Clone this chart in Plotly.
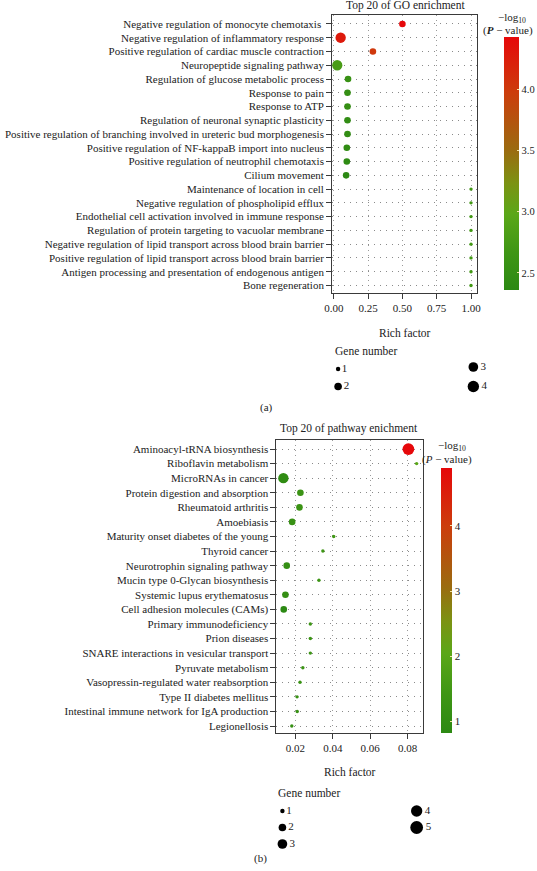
import numpy as np
import plotly.graph_objects as go

W, H = 537, 871
FONT = "Liberation Serif"

# ---------------- data: GO enrichment (panel a) ----------------
go_terms = [
    "Negative regulation of monocyte chemotaxis ",
    "Negative regulation of inflammatory response",
    "Positive regulation of cardiac muscle contraction",
    "Neuropeptide signaling pathway",
    "Regulation of glucose metabolic process",
    "Response to pain",
    "Response to ATP",
    "Regulation of neuronal synaptic plasticity",
    "Positive regulation of branching involved in ureteric bud morphogenesis",
    "Positive regulation of NF-kappaB import into nucleus",
    "Positive regulation of neutrophil chemotaxis",
    "Cilium movement",
    "Maintenance of location in cell",
    "Negative regulation of phospholipid efflux",
    "Endothelial cell activation involved in immune response",
    "Regulation of protein targeting to vacuolar membrane",
    "Negative regulation of lipid transport across blood brain barrier",
    "Positive regulation of lipid transport across blood brain barrier",
    "Antigen processing and presentation of endogenous antigen",
    "Bone regeneration",
]
go_rich = [0.50, 0.05, 0.285, 0.025, 0.104, 0.10, 0.10, 0.10, 0.10, 0.095,
           0.095, 0.09, 1.00, 1.00, 1.00, 1.00, 1.00, 1.00, 1.00, 1.00]
go_genes = [2, 4, 2, 4, 2, 2, 2, 2, 2, 2, 2, 2, 1, 1, 1, 1, 1, 1, 1, 1]
go_logp = [4.43, 4.28, 4.02, 2.78, 2.55, 2.5, 2.5, 2.46, 2.45, 2.42,
           2.4, 2.36, 2.72, 2.72, 2.72, 2.72, 2.72, 2.72, 2.72, 2.72]
go_xticks = [0.00, 0.25, 0.50, 0.75, 1.00]
go_cticks = [2.5, 3.0, 3.5, 4.0]
go_legend_genes = [1, 2, 3, 4]

# ---------------- data: KEGG pathway enrichment (panel b) ----------------
kegg_terms = [
    "Aminoacyl-tRNA biosynthesis",
    "Riboflavin metabolism",
    "MicroRNAs in cancer",
    "Protein digestion and absorption",
    "Rheumatoid arthritis",
    "Amoebiasis",
    "Maturity onset diabetes of the young",
    "Thyroid cancer",
    "Neurotrophin signaling pathway",
    "Mucin type 0-Glycan biosynthesis",
    "Systemic lupus erythematosus",
    "Cell adhesion molecules (CAMs)",
    "Primary immunodeficiency",
    "Prion diseases",
    "SNARE interactions in vesicular transport",
    "Pyruvate metabolism",
    "Vasopressin-regulated water reabsorption",
    "Type II diabetes mellitus",
    "Intestinal immune network for IgA production",
    "Legionellosis",
]
kegg_rich = [0.0804, 0.0848, 0.0136, 0.0227, 0.0222, 0.0183, 0.0405, 0.0347,
             0.0154, 0.0326, 0.0147, 0.0138, 0.028, 0.028, 0.028, 0.024,
             0.0225, 0.0209, 0.021, 0.0181]
kegg_genes = [5, 1, 4, 2, 2, 2, 1, 1, 2, 1, 2, 2, 1, 1, 1, 1, 1, 1, 1, 1]
kegg_logp = [4.89, 2.0, 0.95, 1.3, 1.3, 1.2, 1.45, 1.4, 1.1, 1.35, 1.1, 0.82,
             1.35, 1.35, 1.35, 1.3, 1.25, 1.2, 1.2, 1.15]
kegg_xticks = [0.02, 0.04, 0.06, 0.08]
kegg_cticks = [1, 2, 3, 4]
kegg_legend_genes = [1, 2, 3, 4, 5]


# ---------------- helpers ----------------
def px(x):
    return x / W


def py(y):
    return 1 - y / H


def gsize(n):
    return float(np.sqrt(30 * np.asarray(n, dtype=float) - 19) * 1.03)


cscale = [
    [0.0, "#2c8913"],
    [0.15, "#3f9615"],
    [0.30, "#5ba718"],
    [0.42, "#7b9313"],
    [0.55, "#9a6c10"],
    [0.78, "#cc3d0c"],
    [1.0, "#e6080a"],
]

fig = go.Figure()

# main scatter traces
fig.add_trace(go.Scatter(
    x=go_rich, y=go_terms, mode="markers", xaxis="x", yaxis="y",
    marker=dict(size=[gsize(g) for g in go_genes], color=go_logp,
                coloraxis="coloraxis", line=dict(width=0), opacity=1),
    showlegend=False, hoverinfo="skip"))
fig.add_trace(go.Scatter(
    x=kegg_rich, y=kegg_terms, mode="markers", xaxis="x2", yaxis="y2",
    marker=dict(size=[gsize(g) for g in kegg_genes], color=kegg_logp,
                coloraxis="coloraxis2", line=dict(width=0), opacity=1),
    showlegend=False, hoverinfo="skip"))


# size keys ("Gene number") drawn on a pixel overlay axis
def key_positions(genes, x0, y0, dx, dy, per_col):
    xs, ys = [], []
    for i, _ in enumerate(genes):
        c, r = divmod(i, per_col)
        xs.append(x0 + c * dx)
        ys.append(y0 + r * dy)
    return xs, ys


kx, ky = key_positions(go_legend_genes, 340, 369, 136, 17.5, 2)
ky = [ky[0], ky[1], ky[2] - 2, ky[3]]
fig.add_trace(go.Scatter(
    x=kx, y=ky, mode="markers+text", xaxis="x3", yaxis="y3",
    text=[str(g) for g in go_legend_genes], textposition="middle right",
    textfont=dict(family=FONT, size=11, color="#222222"),
    marker=dict(size=[gsize(g) + 1.0 for g in go_legend_genes], color="#000000",
                opacity=1, line=dict(width=0)),
    showlegend=False, hoverinfo="skip"))
kx2, ky2 = key_positions(kegg_legend_genes, 284, 811, 135, 16.5, 3)
fig.add_trace(go.Scatter(
    x=kx2, y=ky2, mode="markers+text", xaxis="x3", yaxis="y3",
    text=[str(g) for g in kegg_legend_genes], textposition="middle right",
    textfont=dict(family=FONT, size=11, color="#222222"),
    marker=dict(size=[gsize(g) + 1.0 for g in kegg_legend_genes], color="#000000",
                opacity=1, line=dict(width=0)),
    showlegend=False, hoverinfo="skip"))

axis_common = dict(
    showline=True, mirror=True, linecolor="#3a3a3a", linewidth=1,
    ticks="outside", ticklen=5, tickcolor="#3a3a3a", tickwidth=1,
    zeroline=False, automargin=False,
    tickfont=dict(family=FONT, size=11, color="#222"),
)
grid_h = dict(showgrid=True, gridcolor="#8a8a8a", gridwidth=1, griddash="1px,5px")
grid_v = dict(showgrid=True, gridcolor="#9a9a9a", gridwidth=1, griddash="1px,4px")

fig.update_layout(
    width=W, height=H, autosize=False,
    margin=dict(l=0, r=0, t=0, b=0),
    paper_bgcolor="white", plot_bgcolor="rgba(0,0,0,0)",
    font=dict(family=FONT, size=11, color="#222"),
    xaxis=dict(domain=[px(334), px(480)], anchor="y", range=[-0.012, 1.046],
               tickvals=go_xticks, ticktext=[f"{v:.2f}" for v in go_xticks],
               **axis_common, **grid_v),
    yaxis=dict(domain=[py(293), py(15)], anchor="x", type="category",
               categoryorder="array", categoryarray=go_terms,
               range=[19.55, -0.65], **axis_common, **grid_h),
    xaxis2=dict(domain=[px(278), px(425)], anchor="y2", range=[0.0099, 0.0880],
                tickvals=kegg_xticks, ticktext=[f"{v:.2f}" for v in kegg_xticks],
                **axis_common, **grid_v),
    yaxis2=dict(domain=[py(733), py(440)], anchor="x2", type="category",
                categoryorder="array", categoryarray=kegg_terms,
                range=[19.48, -0.62], **axis_common, **grid_h),
    xaxis3=dict(domain=[0, 1], anchor="y3", range=[0, W], visible=False,
                fixedrange=True, showgrid=False, zeroline=False),
    yaxis3=dict(domain=[0, 1], anchor="x3", range=[H, 0], visible=False,
                fixedrange=True, showgrid=False, zeroline=False),
    coloraxis=dict(
        colorscale=cscale, cmin=2.36, cmax=4.43,
        colorbar=dict(
            thickness=15, lenmode="pixels", len=290 - 37,
            x=px(507), xanchor="left", xpad=0, xref="paper",
            y=py(37), yanchor="top", ypad=0, yref="paper",
            outlinewidth=0, ticks="inside", ticklen=2, tickcolor="#f3e3a0",
            tickvals=go_cticks, ticktext=[f"{v:.1f}" for v in go_cticks],
            tickfont=dict(family=FONT, size=10.5, color="#222"),
        ),
    ),
    coloraxis2=dict(
        colorscale=cscale, cmin=0.82, cmax=4.89,
        colorbar=dict(
            thickness=11, lenmode="pixels", len=733 - 468,
            x=px(443), xanchor="left", xpad=0, xref="paper",
            y=py(468), yanchor="top", ypad=0, yref="paper",
            outlinewidth=0, ticks="inside", ticklen=2, tickcolor="#f3e3a0",
            tickvals=kegg_cticks, ticktext=[str(v) for v in kegg_cticks],
            tickfont=dict(family=FONT, size=11, color="#222"),
        ),
    ),
)


def ann(text, x, y, xanchor="center", size=11):
    fig.add_annotation(text=text, x=px(x), y=py(y), xref="paper", yref="paper",
                       xanchor=xanchor, yanchor="middle", showarrow=False,
                       font=dict(family=FONT, size=size, color="#222"))


ann("Top 20 of GO enrichment", 408, 5, size=11.5)
ann("−log<sub>10</sub>", 515, 18)
ann("(<b><i>P</i></b> − value)", 511, 31)
ann("Rich factor", 407, 333, size=11.5)
ann("Gene number", 335, 351, xanchor="left", size=11.5)
ann("(a)", 268, 407)

ann("Top 20 of pathway enichment", 351, 428, size=11.5)
ann("−log<sub>10</sub>", 455, 446)
ann("(<i>P</i> − value)", 450, 460)
ann("Rich factor", 352, 772, size=11.5)
ann("Gene number", 278, 793, xanchor="left", size=11.5)
ann("(b)", 262, 858)

fig.write_html("out.html",
               config={"displayModeBar": False, "staticPlot": True},
               post_script="document.body.style.margin='0';"
                           "document.body.style.padding='0';")
